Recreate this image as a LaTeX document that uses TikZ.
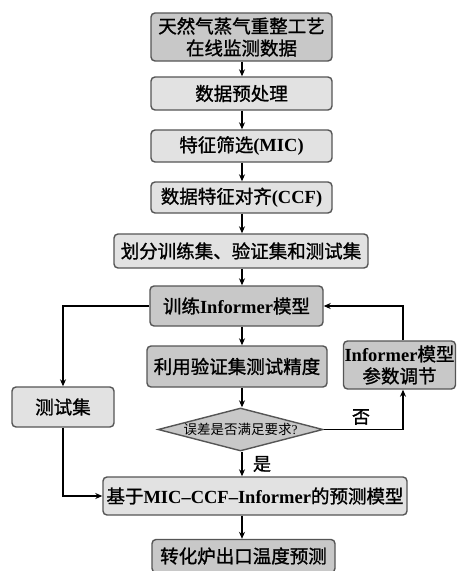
\documentclass[tikz,border=0pt]{standalone}
\usepackage{fontspec}
\setmainfont{Noto Sans CJK SC}
\newfontfamily\cjkb{Noto Sans CJK SC}[FakeBold=1.2]
\newfontfamily\lat{Liberation Serif}[BoldFont={Liberation Serif Bold}]
\newcommand\en[1]{{\lat\bfseries #1}}
\usetikzlibrary{shapes.geometric,arrows.meta,calc}
\definecolor{darkfill}{HTML}{C8C8C8}
\definecolor{lightfill}{HTML}{E2E2E2}
\definecolor{edge}{HTML}{555555}
\begin{document}
\begin{tikzpicture}[x=1pt,y=-1pt,
  base/.style={draw=edge,line width=1.4pt,rounded corners=4pt,inner sep=0pt,align=center,
    font=\cjkb\fontsize{18.5}{22}\selectfont},
  dk/.style={base,fill=darkfill},
  lt/.style={base,fill=lightfill},
  arr/.style={-{Stealth[length=7pt,width=6pt]},line width=1.3pt,black},
  lbl/.style={font=\cjkb\fontsize{18}{22}\selectfont,inner sep=0pt}]
\useasboundingbox (0,0) rectangle (457,571);
\coordinate (col) at (242,0);
\coordinate (col2) at (403,0);
\node[dk,minimum width=181pt,minimum height=48pt] (src) at (241.5,37) {天然气蒸气重整工艺\\在线监测数据};
\node[lt,minimum width=181pt,minimum height=33pt] (pre) at (241.5,93.5) {数据预处理};
\node[lt,minimum width=181pt,minimum height=32pt] (mic) at (241.5,146) {特征筛选\en{(MIC)}};
\node[lt,minimum width=181pt,minimum height=31pt] (ccf) at (241.5,197.5) {数据特征对齐\en{(CCF)}};
\node[lt,minimum width=254pt,minimum height=34pt] (split) at (241,251) {划分训练集、验证集和测试集};
\node[dk,minimum width=173pt,minimum height=40pt] (train) at (236.5,306) {训练\en{Informer}模型};
\node[dk,minimum width=180pt,minimum height=41pt] (valid) at (237,366.5) {利用验证集测试精度};
\node[dk,minimum width=112pt,minimum height=48pt] (tune) at (399.5,365) {\en{Informer}模型\\参数调节};
\node[lt,minimum width=102pt,minimum height=40pt] (test) at (63,407) {测试集};
\node[diamond,draw=edge,line width=1.4pt,fill=darkfill,inner sep=0pt,minimum width=165pt,minimum height=43pt,aspect=3.8,
  font=\fontsize{13.5}{15}\selectfont] (dia) at (240.5,429.5) {误差是否满足要求{\lat ?}};
\node[lt,minimum width=304pt,minimum height=38pt] (model) at (255,496) {基于\en{MIC–CCF–Informer}的预测模型};
\node[dk,minimum width=183pt,minimum height=33pt] (out) at (243.5,556) {转化炉出口温度预测};
\node[lbl] (no) at (361,417) {否};
\node[lbl] (yes) at (262,464) {是};
\draw[arr] (src.south -| col) -- (pre.north -| col);
\draw[arr] (pre.south -| col) -- (mic.north -| col);
\draw[arr] (mic.south -| col) -- (ccf.north -| col);
\draw[arr] (ccf.south -| col) -- (split.north -| col);
\draw[arr] (split.south -| col) -- (train.north -| col);
\draw[arr] (train.south -| col) -- (valid.north -| col);
\draw[arr] (valid.south -| col) -- (dia.north -| col);
\draw[arr] (dia.south -| col) -- (model.north -| col);
\draw[arr] (model.south -| col) -- (out.north -| col);
\draw[arr] (train.west) -| (test.north);
\draw[arr] (test.south) |- (model.west);
\draw[arr] (dia.east) -| (tune.south -| col2);
\draw[arr] (tune.north -| col2) |- (train.east);
\end{tikzpicture}
\end{document}
